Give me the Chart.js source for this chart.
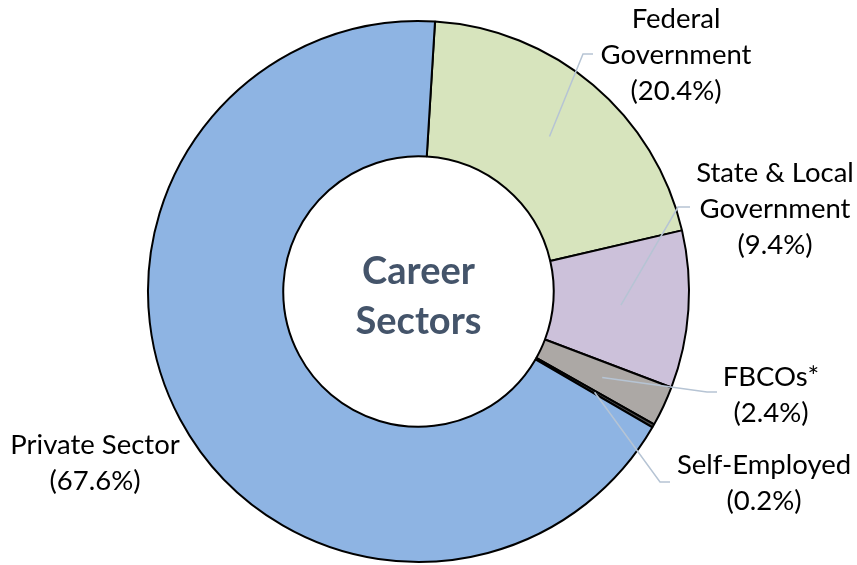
<!DOCTYPE html>
<html>
<head>
<meta charset="utf-8">
<script src="https://cdn.jsdelivr.net/npm/chart.js@4"></script>
<style>
  html, body { margin: 0; padding: 0; background: #fff; }
  #wrap { position: relative; width: 857px; height: 565px; }
</style>
</head>
<body>
<div id="wrap"><canvas id="chart" width="857" height="565"></canvas></div>
<script>
// career sector shares, clockwise from the top
var sectors = ['Federal Government', 'State & Local Government', 'FBCOs*', 'Self-Employed', 'Private Sector']
var shares = [20.4, 9.4, 2.4, 0.2, 67.6]
var labelLines = [
  ['Federal', 'Government', '(20.4%)'],
  ['State & Local', 'Government', '(9.4%)'],
  ['FBCOs*', '(2.4%)'],
  ['Self-Employed', '(0.2%)'],
  ['Private Sector', '(67.6%)']
]
var sliceColors = ['#D7E4BD', '#CCC1DA', '#ACA8A5', '#4a4a4a', '#8EB4E3']

// where each label sits (text center of first line) and the leader elbow
var labelSpots = [
  { tx: 676, ty: 19, ex: 583, ey: 54, hx: 593 },
  { tx: 775, ty: 173, ex: 678, ey: 207, hx: 690 },
  { tx: 771, ty: 377, ex: 707, ey: 392, hx: 717 },
  { tx: 764, ty: 465, ex: 660, ey: 482, hx: 670 },
  { tx: 95, ty: 445 }
]
var lineGap = 36

var leaderPlugin = {
  id: 'leaders',
  afterDraw: function (chart) {
    var ctx = chart.ctx
    var arcs = chart.getDatasetMeta(0).data
    ctx.save()
    for (var i = 0; i < arcs.length; i++) {
      var spot = labelSpots[i]
      var a = arcs[i]
      if (spot.ex !== undefined) {
        var mid = (a.startAngle + a.endAngle) / 2
        var r = (a.innerRadius + a.outerRadius) / 2
        var sx = a.x + Math.cos(mid) * r
        var sy = a.y + Math.sin(mid) * r
        ctx.strokeStyle = '#B6C4D4'
        ctx.lineWidth = 1.5
        ctx.beginPath()
        ctx.moveTo(sx, sy)
        ctx.lineTo(spot.ex, spot.ey)
        ctx.lineTo(spot.hx, spot.ey)
        ctx.stroke()
      }
      ctx.fillStyle = '#000'
      ctx.font = '27.5px Lato'
      ctx.textAlign = 'center'
      ctx.textBaseline = 'middle'
      var lines = labelLines[i]
      for (var j = 0; j < lines.length; j++) {
        ctx.fillText(lines[j], spot.tx, spot.ty + j * lineGap)
      }
    }
    // center title
    var c = arcs[0]
    ctx.fillStyle = '#44546A'
    ctx.font = 'bold 38px Lato'
    ctx.fillText('Career', c.x, c.y - 20)
    ctx.fillText('Sectors', c.x, c.y + 30)
    ctx.restore()
  }
}

var ctx = document.getElementById('chart').getContext('2d')
var myChart = new Chart(ctx, {
  type: 'doughnut',
  data: {
    labels: sectors,
    datasets: [{
      data: shares,
      backgroundColor: sliceColors,
      borderColor: '#000',
      borderWidth: 2
    }]
  },
  options: {
    responsive: false,
    animation: false,
    rotation: 3.5,
    cutout: '50%',
    layout: { padding: { left: 147, right: 167, top: 20, bottom: 2 } },
    plugins: {
      legend: { display: false },
      tooltip: { enabled: false }
    }
  },
  plugins: [leaderPlugin]
})
</script>
</body>
</html>
